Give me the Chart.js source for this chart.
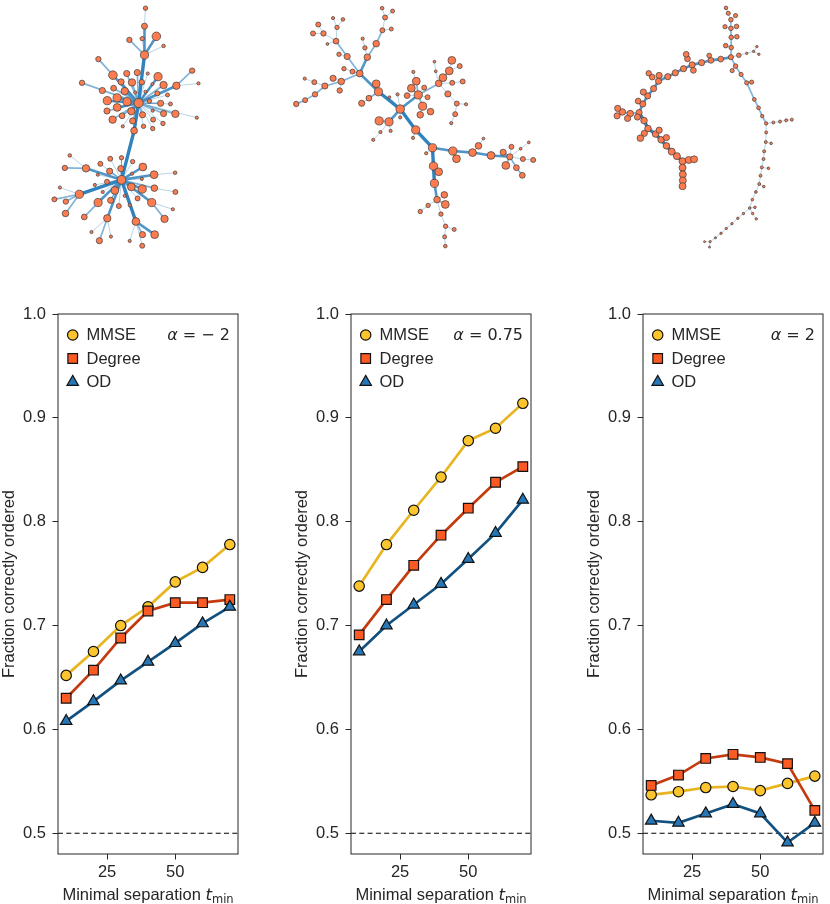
<!DOCTYPE html>
<html>
<head>
<meta charset="utf-8">
<script src="https://cdn.jsdelivr.net/npm/chart.js@4.4.1/dist/chart.umd.min.js"></script>
<style>
  html, body { margin: 0; padding: 0; background: #fff; overflow: hidden; }
  #page { position: relative; width: 830px; height: 904px; }
  .box { position: absolute; }
</style>
</head>
<body>
<div id="page">
  <div class="box" style="left:0;top:0;width:830px;height:270px"><canvas id="net"></canvas></div>
  <div class="box" style="left:0px;top:290px;width:246px;height:614px"><canvas id="p0"></canvas></div>
  <div class="box" style="left:292.7px;top:290px;width:246px;height:614px"><canvas id="p1"></canvas></div>
  <div class="box" style="left:585.3px;top:290px;width:246px;height:614px"><canvas id="p2"></canvas></div>
</div>
<script>
// ---- line panels ----
const tMin = [10, 20, 30, 40, 50, 60, 70];
const xTicks = [25, 50];
const yTicks = [0.5, 0.6, 0.7, 0.8, 0.9, 1.0];
const chance = 0.5;
const alphaLabels = ['− 2', '0.75', '2'];

// alpha = -2
const mmse1   = [0.652, 0.675, 0.700, 0.718, 0.742, 0.756, 0.778];
const degree1 = [0.630, 0.657, 0.688, 0.714, 0.722, 0.722, 0.725];
const od1     = [0.608, 0.627, 0.647, 0.665, 0.683, 0.702, 0.718];
// alpha = 0.75
const mmse2   = [0.738, 0.778, 0.811, 0.843, 0.878, 0.890, 0.914];
const degree2 = [0.691, 0.725, 0.758, 0.787, 0.813, 0.838, 0.853];
const od2     = [0.675, 0.700, 0.720, 0.740, 0.764, 0.789, 0.821];
// alpha = 2
const mmse3   = [0.537, 0.540, 0.544, 0.545, 0.541, 0.548, 0.555];
const degree3 = [0.546, 0.556, 0.572, 0.576, 0.573, 0.567, 0.522];
const od3     = [0.512, 0.510, 0.519, 0.528, 0.519, 0.491, 0.510];

// ---- networks: [x, y, size, parent, weight] ----
const net1Nodes = [
  [135,101.7,4.6,-1,0],[130.5,130.5,3.4,0,4],[117.7,181.7,4.4,1,4],[141,51.7,4.1,0,4],[141,21.7,3,3,3],
  [142,3,2.2,4,1],[153,32.3,4.3,3,3],[138.7,34.7,2.2,3,1],[125.7,36,2.7,3,2],[160.3,42.3,1.8,3,1],
  [94.3,56,2.7,11,2],[109,72.7,4.3,0,3],[123,71,3.1,0,2],[133.7,70,3.1,0,2],[144.3,71,1.6,0,1],
  [154.7,74.3,4.1,0,3],[117.3,79.7,3.1,0,2],[128.3,80.3,3.7,0,2],[138.3,80,2.7,0,1],[149,82,1.5,0,1],
  [160.3,83,3.7,0,2],[173.3,83.7,3.7,0,3],[189.3,68,2.7,21,2],[195.7,81.3,1.6,21,1],[77.7,80.7,2.7,0,2],
  [98.3,88.7,3.1,0,2],[109.7,86.3,2.9,0,2],[121,89.3,3.7,0,3],[131.7,90.7,1.6,0,1],[142,90,1.6,0,1],
  [154,91.7,2.5,0,1],[164.3,93.3,2,0,1],[103.3,99.3,4.1,0,3],[113.3,96.3,4.1,0,3],[123.3,100.3,4.1,0,3],
  [146,99.7,2.2,0,1],[157.3,102,3.1,0,2],[167.3,102.7,2,0,1],[103,110,3.1,0,2],[113.3,106.3,3.9,0,3],
  [127.7,110.3,3.7,0,3],[149.3,109.7,1.6,0,1],[160.3,112.7,3.1,0,2],[172.3,113,3.7,0,2],[194,117,1.6,0,1],
  [108.7,119,3.7,0,2],[118.3,115,2.9,0,2],[139,114,3.1,0,2],[129,120.3,3.1,0,2],[149.7,119,2.5,0,1],
  [159.7,123,2.2,0,1],[119,126,1.6,0,1],[140,126,2.2,0,1],[149.3,128.3,2.2,0,1],[65.3,156.3,1.8,55,1],
  [81.7,169.7,3.7,2,3],[60.3,169.3,2.7,55,2],[96.3,165,2.5,2,1],[106.3,159.7,2.5,2,1],[117.7,158.7,2.2,2,1],
  [129,162.7,2.2,2,1],[139.3,168.3,3.9,2,3],[117,170,3.1,2,2],[105.7,172.7,3.1,2,2],[93.7,176.3,1.6,2,1],
  [128.3,175.3,1.6,2,1],[150.7,176.3,3.9,2,3],[172,174.3,1.8,66,1],[138.3,180.7,1.6,2,1],[103,183.7,2.5,2,1],
  [90.7,187,1.6,2,1],[55.3,189.7,1.6,73,1],[127.7,189,3.9,2,3],[75,196.7,4.1,2,4],[138.7,191.3,4.1,2,3],
  [151,190.3,3.3,2,2],[172.3,194.3,2.5,75,1],[111,192.7,3.9,2,3],[98.7,194.3,1.6,2,1],[49.7,202,2.5,73,2],
  [61.3,204.3,2.7,73,2],[121,198.3,1.6,2,1],[134,201,2.5,2,1],[106.7,203,3.1,2,2],[94,205.3,4.1,2,3],
  [148.3,205.3,4.1,2,3],[126,208,1.6,2,1],[115,209,2.5,2,1],[61,216.7,3.3,73,2],[80,220.3,2.9,84,2],
  [103.3,221.7,3.7,2,3],[161.3,222.3,3.7,85,2],[169.7,212.3,1.6,85,1],[132.3,225,3.9,2,4],[87.3,236,1.6,90,1],
  [107,240.7,1.6,90,1],[95.3,245,3.1,90,2],[139,238.7,3.1,93,2],[151.3,238.7,3.9,93,3],[126,245.3,1.6,93,1],
  [138.7,250.3,2.5,93,1]
];
const net2Nodes = [
  [400,108,4.3,-1,0],[378,90,4.1,0,4],[375.7,81.7,3.9,1,2],[359,71,3.4,1,3],[366.7,54,3.3,3,3],
  [375.7,40,3.3,4,2],[382,26,2.5,5,2],[384.7,12.7,2.5,6,1],[381.7,3,1.8,7,1],[392.3,6,2,7,1],
  [391,24.7,2,6,1],[364.3,44.3,2.2,4,1],[362,34.7,1.6,11,1],[346.3,53.3,3.1,3,2],[335,37.3,2.9,13,2],
  [322.3,29.3,2.7,14,1],[317,20,2.5,15,1],[311.7,29.3,2.5,15,1],[336,23,2.2,14,1],[332,13.3,1.6,18,1],
  [342,14.7,1.8,18,1],[326.3,40.3,1.4,14,1],[338,51,2.2,13,1],[351.7,69,2.5,3,1],[343,66,2.2,3,1],
  [340.3,79.3,3.3,3,2],[332,76,3.1,25,1],[323.7,84,3.1,25,2],[313,80,2.5,27,1],[303.3,76.3,1.6,28,1],
  [313.7,92.7,2.7,27,2],[303.7,98.7,2.5,30,2],[294.7,102.7,2.7,31,2],[338.7,88.7,2.7,25,1],[368.3,96.7,2.9,1,2],
  [361,102,3.1,34,1],[389,95.7,1.4,0,1],[397.3,92.7,1.6,0,1],[388.7,121.3,4.1,0,3],[378.7,120.3,4.1,38,2],
  [390.3,130.7,1.6,38,1],[380,132,1.6,38,1],[372.7,140,1.6,41,1],[400,116.7,1.6,0,1],[418.3,93.3,4.1,0,3],
  [416.3,79,3.9,44,2],[411.3,86.3,3.9,44,2],[407,94,2.9,44,1],[413.3,69.3,1.6,45,1],[422.7,105,4.1,44,2],
  [430.7,110.7,3.3,49,1],[420.3,114,3.3,49,1],[424.3,85.7,2.5,44,1],[427.7,95.7,2.5,44,1],[439,81.3,3.3,44,2],
  [443.3,75.3,3.9,54,2],[449.7,68.3,3.9,55,2],[452.3,57.3,3.9,56,1],[460.3,63.3,2.5,56,1],[436,68.7,1.4,54,1],
  [434.7,58.7,1.4,59,1],[452.7,80.7,2.5,54,1],[463.3,79.3,2.5,61,1],[448.3,92.3,3.1,54,1],[457.3,102.3,2.5,63,1],
  [466.7,103,1.6,64,1],[455.7,113.3,2.5,64,1],[451.7,122.7,1.6,66,1],[415.7,129.7,4.1,0,4],[432.7,148.3,4.1,68,4],
  [413,138,1.6,68,1],[426.3,154,1.6,69,1],[453.3,151.7,4.1,69,3],[457,159.7,3.9,72,2],[473.3,153.3,3.9,72,3],
  [479.3,146.3,3.3,74,1],[484.3,138.7,1.4,75,1],[492,156.3,3.9,74,3],[504.3,153,3.1,79,2],[511,157.7,3.1,77,3],
  [512.7,147.3,2.5,79,1],[522,149.3,1.4,79,1],[530.3,142.7,1.4,81,1],[524.3,160,2.5,79,1],[534.7,161,2.5,83,1],
  [507,166.7,3.9,79,2],[517.7,169,2.9,79,2],[523.7,177,2.9,86,2],[433.7,167.3,4.1,69,4],[439,173.3,3.9,88,2],
  [434.7,185.3,4.1,88,4],[437.3,202.3,3.3,90,3],[444.7,197.3,3.3,91,1],[445.7,207.3,3.9,91,2],[428.3,208.3,2.2,91,1],
  [420.3,214.7,2.2,94,1],[441.3,217.3,2.2,91,1],[446,230,2.2,96,1],[445,241,2,97,1],[445.7,250.7,1.8,98,1],
  [454.7,233.3,2,97,1]
];
const net3Nodes = [
  [735,54,2.6,-1,0],[735.3,44,2.3,0,2],[729.7,42,2.3,1,1],[735.3,33.3,2.3,1,2],[741,32.7,2.3,3,1],
  [735,24,2.3,3,2],[729,22.3,2.1,5,1],[740.7,22,2.3,5,1],[735,15,2.3,5,1],[739.7,10.7,2.1,8,1],
  [732.3,8.3,2.1,8,1],[730,2.7,1.8,10,1],[743,52,2.3,0,1],[751,50,1.2,12,1],[758,48,1.2,13,1],
  [761.3,43,1.2,14,1],[763.3,51,1.2,14,1],[724.7,56,2.9,0,3],[714.7,57.3,2.9,17,3],[713,52.3,2.4,18,1],
  [705.3,59.7,3.1,18,3],[695.7,62,3.1,20,3],[691,55.7,2.9,21,1],[689.7,51,2.9,22,1],[697,67.7,2.9,21,1],
  [687,66,3.1,21,3],[678.7,70.3,3.1,25,3],[671,74.3,3.1,26,3],[662.3,73,3.1,27,1],[661.7,79,3.1,27,3],
  [655.3,74.7,2.9,29,1],[651.7,70.7,2.7,30,1],[656.7,86.7,3.1,29,3],[650.7,94.3,3.1,32,3],[646.3,90.3,3.1,33,1],
  [645.7,102.7,3.1,33,3],[641,99.7,2.9,35,1],[642,111.7,3.1,35,3],[633,112.7,3.3,37,2],[625,111,3.3,38,2],
  [620.3,107.3,3.1,39,1],[619.7,115,3.1,39,1],[630.3,117.7,3.1,38,1],[640.3,116.3,3.1,37,1],[647,120,3.3,37,4],
  [651,128.3,3.3,44,4],[647.3,133.3,3.1,45,2],[643.3,138.3,3.3,46,2],[658.7,134,3.3,45,4],[662.3,130,3.1,48,1],
  [664.3,140,3.3,48,4],[669.7,137.7,3.1,50,1],[669.7,146.3,3.3,50,4],[675,152.3,3.5,52,4],[680.3,157,3.5,53,4],
  [686,162.3,3.5,54,4],[692.3,161,3.5,55,2],[697.7,160.3,3.5,56,2],[686,169,3.5,55,4],[686.3,176,3.5,58,4],
  [686.3,182.3,3.5,59,4],[686,188.3,3.5,60,4],[739.7,63.3,2.3,0,2],[736.3,68,2.1,62,1],[745.3,72,2.1,62,2],
  [751,80.7,2.1,64,2],[756,80,2.1,65,1],[758.7,98,1.9,65,2],[763,106.7,1.9,67,2],[766.7,115.3,1.7,68,2],
  [770.7,123,1.7,69,2],[778,122,1.5,70,1],[784.7,121,1.5,71,1],[791,119.7,1.5,72,1],[796.7,119,1.5,73,1],
  [770.7,132.3,1.5,70,1],[770.3,142.3,1.5,75,1],[775.7,143.7,1.3,76,1],[768.7,152,1.5,76,1],[768,160,1.5,78,1],
  [766.3,168.7,1.5,79,1],[773,169.7,1.3,80,1],[765,177.3,1.5,80,1],[763.7,186,1.5,82,1],[768.3,188.7,1.3,83,1],
  [760.3,194.3,1.4,83,1],[756.7,202.3,1.3,85,1],[754,211,1.3,86,1],[759.3,210.3,1.3,87,1],[757,216.7,1.2,87,1],
  [760.7,222.3,1.2,89,1],[747.7,216.7,1.2,87,1],[742,221.7,1.2,91,1],[736,227.3,1.2,92,1],[730.3,232.3,1.2,93,1],
  [725,237.3,1.2,94,1],[719.3,242,1.1,95,1],[714,246,1.1,96,1],[708.3,246,1,97,1],[713.3,251.7,1,97,1]
];

const FONT = 'Liberation Sans, Arial, sans-serif';
const INK = '#262626';

// ---------- network chart ----------
const edgeStyle = {1: [1.0, 0.35], 2: [1.7, 0.6], 3: [2.6, 0.85], 4: [3.4, 1.0]};
const edgePts = {1: [], 2: [], 3: [], 4: []};
const nodePts = [], nodeR = [];
[net1Nodes, net2Nodes, net3Nodes].forEach(net => {
  net.forEach(([x, y, r, p, w]) => {
    nodePts.push({x, y});
    nodeR.push(r);
    if (p >= 0) {
      const q = net[p];
      edgePts[w].push({x, y}, {x: q[0], y: q[1]}, {x: null, y: null});
    }
  });
});

const netDatasets = [{
  data: nodePts, pointRadius: nodeR, pointHoverRadius: nodeR,
  pointBackgroundColor: '#fc7c50', pointBorderColor: '#3b3b3b', pointBorderWidth: 0.7,
  showLine: false, order: 0, clip: false
}];
[1, 2, 3, 4].forEach(w => {
  netDatasets.push({
    data: edgePts[w], showLine: true, spanGaps: false, pointRadius: 0, pointHoverRadius: 0,
    borderWidth: edgeStyle[w][0], borderColor: `rgba(49,130,189,${edgeStyle[w][1]})`,
    order: 5 - w, clip: false
  });
});

new Chart(document.getElementById('net'), {
  type: 'scatter',
  data: {datasets: netDatasets},
  options: {
    responsive: true, maintainAspectRatio: false, animation: false, events: [],
    layout: {padding: 0},
    scales: {
      x: {type: 'linear', display: false, min: 0, max: 830},
      y: {type: 'linear', display: false, min: 0, max: 270, reverse: true}
    },
    plugins: {legend: {display: false}, tooltip: {enabled: false}}
  }
});

// ---------- line panels ----------
const panelData = [[mmse1, degree1, od1], [mmse2, degree2, od2], [mmse3, degree3, od3]];
const seriesStyle = [
  {label: 'MMSE',   line: '#e8b520', fill: '#fcc52d', shape: 'circle',   r: 5.2, order: 3},
  {label: 'Degree', line: '#c33b0e', fill: '#fb5a22', shape: 'rect',     r: 6.8, order: 2},
  {label: 'OD',     line: '#12507f', fill: '#2777b6', shape: 'triangle', r: 6.6, order: 1}
];

const panelDecor = {
  id: 'panelDecor',
  afterDraw(chart) {
    const {ctx, chartArea: a} = chart;
    const k = chart.options.plugins.panelDecor.index;
    ctx.save();
    // frame
    ctx.strokeStyle = INK; ctx.lineWidth = 1;
    ctx.strokeRect(a.left, a.top, a.right - a.left, a.bottom - a.top);
    // legend
    ctx.textBaseline = 'middle';
    ctx.textAlign = 'left';
    seriesStyle.forEach((s, i) => {
      const y = a.top + 21 + 23.5 * i;
      ctx.fillStyle = s.fill; ctx.strokeStyle = '#111'; ctx.lineWidth = 1.2;
      Chart.helpers.drawPoint(ctx, {pointStyle: s.shape, radius: s.r, borderWidth: 1.2, rotation: 0}, a.left + 14.7, y);
      ctx.fillStyle = INK;
      ctx.font = `16.5px ${FONT}`;
      ctx.fillText(s.label, a.left + 28.5, y + 0.5);
    });
    // alpha annotation
    ctx.textAlign = 'right';
    ctx.font = '16px "DejaVu Sans"';
    const rest = ' = ' + alphaLabels[k];
    const wRest = ctx.measureText(rest).width;
    ctx.fillText(rest, a.right - 8, a.top + 21.5);
    ctx.font = 'italic 16px "DejaVu Sans"';
    ctx.fillText('α', a.right - 8 - wRest, a.top + 21.5);
    // x title: Minimal separation t_min
    ctx.textAlign = 'left';
    ctx.textBaseline = 'alphabetic';
    const p1 = 'Minimal separation ';
    ctx.font = `16.5px ${FONT}`;
    const w1 = ctx.measureText(p1).width;
    ctx.font = 'italic 16.5px "DejaVu Sans"';
    const w2 = ctx.measureText('t').width;
    ctx.font = '11.5px "DejaVu Sans"';
    const w3 = ctx.measureText('min').width;
    let x = (a.left + a.right) / 2 - (w1 + w2 + w3) / 2;
    const base = a.bottom + 46;
    ctx.font = `16.5px ${FONT}`;
    ctx.fillText(p1, x, base);
    x += w1;
    ctx.font = 'italic 16.5px "DejaVu Sans"';
    ctx.fillText('t', x, base);
    x += w2;
    ctx.font = '11.5px "DejaVu Sans"';
    ctx.fillText('min', x, base + 3);
    ctx.restore();
  }
};

function makePanel(id, k) {
  const datasets = seriesStyle.map((s, i) => ({
    label: s.label,
    data: tMin.map((t, j) => ({x: t, y: panelData[k][i][j]})),
    borderColor: s.line, borderWidth: 2.7,
    pointStyle: s.shape, pointRadius: s.r, pointHoverRadius: s.r,
    pointBackgroundColor: s.fill, pointBorderColor: '#111', pointBorderWidth: 1.2,
    tension: 0, order: s.order, clip: false
  }));
  datasets.push({
    label: 'chance',
    data: [{x: 7, y: chance}, {x: 73, y: chance}],
    borderColor: '#000', borderWidth: 1.2, borderDash: [5, 3.3],
    pointRadius: 0, pointHoverRadius: 0, order: 4
  });
  new Chart(document.getElementById(id), {
    type: 'line',
    data: {datasets},
    plugins: [panelDecor],
    options: {
      responsive: true, maintainAspectRatio: false, animation: false, events: [],
      layout: {padding: {left: 0, right: 2, top: 24, bottom: 0}},
      plugins: {legend: {display: false}, tooltip: {enabled: false}, panelDecor: {index: k}},
      scales: {
        x: {
          type: 'linear', min: 7, max: 73,
          afterFit: ax => { ax.height = 50; },
          afterBuildTicks: ax => { ax.ticks = xTicks.map(v => ({value: v})); },
          grid: {display: true, drawOnChartArea: false, drawTicks: true, tickLength: 5.5, color: INK, lineWidth: 1},
          border: {display: false},
          ticks: {font: {family: FONT, size: 16.5}, color: INK, padding: 3, maxRotation: 0}
        },
        y: {
          type: 'linear', min: 0.48, max: 1.0,
          afterFit: ax => { ax.width = 58; },
          afterBuildTicks: ax => { ax.ticks = yTicks.map(v => ({value: v})); },
          grid: {display: true, drawOnChartArea: false, drawTicks: true, tickLength: 5.5, color: INK, lineWidth: 1},
          border: {display: false},
          ticks: {font: {family: FONT, size: 16.5}, color: INK, padding: 6.5, callback: v => v.toFixed(1)},
          title: {display: true, text: 'Fraction correctly ordered', color: INK,
                  font: {family: FONT, size: 16.5, lineHeight: 1.1}, padding: {top: 0, bottom: 0}}
        }
      }
    }
  });
}

makePanel('p0', 0);
makePanel('p1', 1);
makePanel('p2', 2);
</script>
</body>
</html>
